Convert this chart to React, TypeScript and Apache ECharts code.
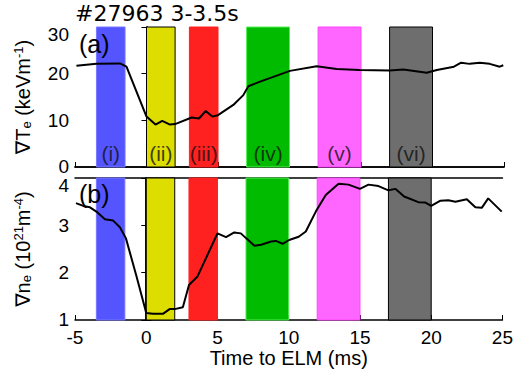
import React, { useEffect, useRef } from "react";
import * as echarts from "echarts";

const teTime = [-4.9, -3.5, -1.85, -1.4, 0, 0.63, 1.1, 1.64, 2.0, 3.16, 3.67, 4.14, 4.6, 5.0, 6.07, 6.77, 7.12, 7.94, 10.03, 11.9, 13.3, 14.9, 17.0, 17.96, 19.6, 20.3, 21.5, 22.0, 22.6, 23.3, 24.0, 24.7, 24.95];
const teGrad = [21.7, 22.1, 22.2, 21.5, 10.8, 9.1, 9.9, 9.1, 9.2, 10.6, 10.4, 12.0, 10.8, 11.1, 13.3, 15.4, 17.3, 18.3, 20.6, 21.6, 21.0, 20.8, 20.7, 20.9, 20.2, 20.8, 21.5, 22.35, 22.1, 22.35, 22.1, 21.5, 21.8];

const neTime = [-4.93, -4.42, -3.95, -3.5, -2.9, -2.32, -1.85, -1.43, -0.68, 0, 0.47, 1.17, 1.64, 2.0, 2.57, 3.0, 3.6, 5.0, 5.6, 6.18, 6.64, 7.0, 7.59, 8.06, 8.76, 9.1, 9.57, 10.03, 10.7, 11.2, 11.9, 12.6, 13.5, 14.2, 15.0, 15.6, 16.3, 17.0, 17.5, 18.1, 19.1, 19.6, 20.0, 20.65, 21.2, 21.7, 22.5, 23.1, 23.55, 24.0, 24.95];
const neGrad = [3.47, 3.41, 3.38, 3.29, 3.13, 3.1, 2.96, 2.73, 1.92, 1.15, 1.13, 1.13, 1.23, 1.23, 1.27, 1.74, 1.92, 2.83, 2.75, 2.85, 2.83, 2.73, 2.57, 2.59, 2.66, 2.67, 2.61, 2.69, 2.76, 2.87, 3.29, 3.64, 3.88, 3.86, 3.77, 3.86, 3.83, 3.74, 3.77, 3.61, 3.49, 3.48, 3.41, 3.52, 3.53, 3.5, 3.55, 3.38, 3.37, 3.57, 3.29];

const bandStart = [-3.5, 0, 3, 7, 12, 17];
const bandEnd = [-1.5, 2, 5, 10, 15, 20];
const bandLabels = ["(i)", "(ii)", "(iii)", "(iv)", "(v)", "(vi)"];
const bandColors = ["#5555ff", "#dddd00", "#ff2020", "#00bb00", "#ff66ff", "#6e6e6e"];
const bandBorders = ["#7777ff", "#000000", "#ff2020", "#55ee55", "#ff44ff", "#000000"];

const xTickMin = -5;
const xTickMax = 25;
const xTickStep = 5;

const FONT = "Liberation Sans, DejaVu Sans, Arial, sans-serif";

export default function App() {
  const ref = useRef<HTMLDivElement>(null);
  useEffect(() => {
    if (!ref.current) return;
    const chart = echarts.init(ref.current, null, { renderer: "svg" });
    const mkBands = () => ({
      silent: true,
      label: { show: false },
      data: bandStart.map((s, i) => [
        {
          xAxis: s,
          itemStyle: { color: bandColors[i], opacity: 1, borderColor: bandBorders[i], borderWidth: 1 },
        },
        { xAxis: bandEnd[i] },
      ]),
    });
    const axisLine = { show: true, lineStyle: { color: "#000", width: 1.5 } };
    const xBase = {
      type: "value",
      min: xTickMin,
      max: xTickMax,
      interval: xTickStep,
      splitLine: { show: false },
      axisLine,
      axisTick: { show: true, inside: true, length: 5, lineStyle: { color: "#000" } },
    };
    const mkYLabel = (minV: number, maxV: number, downMax: number, upMin: number) => ({
      fontSize: 19,
      color: "#000",
      fontFamily: FONT,
      margin: 6,
      formatter: (v: number) => (v === maxV ? "{t|" + v + "}" : v === minV ? "{b|" + v + "}" : String(v)),
      rich: {
        t: { fontSize: 19, color: "#000", fontFamily: FONT, padding: [downMax * 2, 0, 0, 0] },
        b: { fontSize: 19, color: "#000", fontFamily: FONT, padding: [0, 0, upMin * 2, 0] },
      },
    });
    const nameStyle = {
      fontSize: 20,
      color: "#000",
      fontFamily: FONT,
      rich: {
        sub: { fontSize: 13, fontFamily: FONT, color: "#000", verticalAlign: "bottom", padding: [8, 0, 0, 0] },
        sup: { fontSize: 13, fontFamily: FONT, color: "#000", verticalAlign: "top", padding: [0, 0, 7, 0] },
      },
    };
    chart.setOption({
      animation: false,
      grid: [
        { left: 75, top: 27, width: 429, height: 140 },
        { left: 75, top: 178, width: 429, height: 142 },
      ],
      xAxis: [
        { ...xBase, gridIndex: 0, axisLabel: { show: false } },
        {
          ...xBase,
          gridIndex: 1,
          axisLabel: { show: true, fontSize: 19, color: "#000", fontFamily: FONT, margin: 8 },
          name: "Time to ELM (ms)",
          nameLocation: "middle",
          nameGap: 25,
          nameTextStyle: { fontSize: 20, color: "#000", fontFamily: FONT },
        },
        { ...xBase, gridIndex: 0, position: "top", axisLabel: { show: false }, axisTick: { show: false } },
        { ...xBase, gridIndex: 1, position: "top", axisLabel: { show: false }, axisTick: { show: false } },
      ],
      yAxis: [
        {
          type: "value",
          gridIndex: 0,
          min: 0,
          max: 30,
          interval: 10,
          splitLine: { show: false },
          axisLine,
          axisTick: { show: true, inside: true, length: 5, lineStyle: { color: "#000" } },
          axisLabel: mkYLabel(0, 30, 7, 1),
          name: "∇T{sub|e} (keVm{sup|-1})",
          nameLocation: "middle",
          nameGap: 42,
          nameTextStyle: nameStyle,
        },
        {
          type: "value",
          gridIndex: 1,
          min: 1,
          max: 4,
          interval: 1,
          splitLine: { show: false },
          axisLine,
          axisTick: { show: true, inside: true, length: 5, lineStyle: { color: "#000" } },
          axisLabel: mkYLabel(1, 4, 7, 1),
          name: "∇n{sub|e} (10{sup|21}m{sup|-4})",
          nameLocation: "middle",
          nameGap: 42,
          nameTextStyle: nameStyle,
        },
        {
          type: "value",
          gridIndex: 0,
          position: "right",
          min: 0,
          max: 30,
          interval: 10,
          splitLine: { show: false },
          axisLine,
          axisTick: { show: true, inside: true, length: 5, lineStyle: { color: "#000" } },
          axisLabel: { show: false },
        },
        {
          type: "value",
          gridIndex: 1,
          position: "right",
          min: 1,
          max: 4,
          interval: 1,
          splitLine: { show: false },
          axisLine,
          axisTick: { show: true, inside: true, length: 5, lineStyle: { color: "#000" } },
          axisLabel: { show: false },
        },
      ],
      graphic: [
        { type: "text", left: 75, top: 2, z: 100, style: { text: "#27963 3-3.5s", fontSize: 22, fill: "#000", fontFamily: "DejaVu Sans" } },
        { type: "text", left: 79, top: 31, z: 100, style: { text: "(a)", fontSize: 25, fill: "#000", fontFamily: FONT } },
        { type: "text", left: 79, top: 181, z: 100, style: { text: "(b)", fontSize: 25, fill: "#000", fontFamily: FONT } },
      ],
      series: [
        {
          type: "line",
          xAxisIndex: 0,
          yAxisIndex: 0,
          data: teTime.map((t, i) => [t, teGrad[i]]),
          showSymbol: false,
          lineStyle: { color: "#000", width: 2 },
          markArea: mkBands(),
          z: 3,
        },
        {
          type: "line",
          xAxisIndex: 1,
          yAxisIndex: 1,
          data: neTime.map((t, i) => [t, neGrad[i]]),
          showSymbol: false,
          lineStyle: { color: "#000", width: 2 },
          markArea: mkBands(),
          z: 3,
        },
        {
          type: "scatter",
          xAxisIndex: 0,
          yAxisIndex: 0,
          symbolSize: 0,
          silent: true,
          z: 5,
          data: bandStart.map((s, i) => [(s + bandEnd[i]) / 2, 0]),
          label: {
            show: true,
            position: "top",
            distance: 3,
            fontSize: 21,
            color: "#111",
            fontFamily: FONT,
            formatter: (p: any) => bandLabels[p.dataIndex],
          },
        },
      ],
    });
    return () => chart.dispose();
  }, []);
  return <div ref={ref} style={{ width: 516, height: 369, position: "absolute", left: 0, top: 0 }} />;
}
